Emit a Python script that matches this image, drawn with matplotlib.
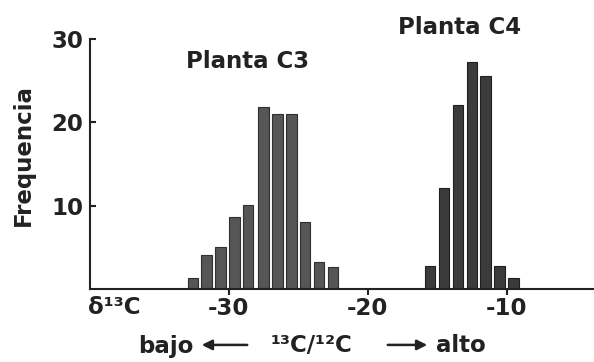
import numpy as np
import matplotlib.pyplot as plt

# data
c3_x = [-32.6, -31.6, -30.6, -29.6, -28.6, -27.5, -26.5, -25.5, -24.5, -23.5, -22.5]
c3_n = [1.3, 4.1, 5.1, 8.7, 10.1, 21.9, 21.0, 21.0, 8.0, 3.2, 2.7]
c4_x = [-15.5, -14.5, -13.5, -12.5, -11.5, -10.5, -9.5]
c4_n = [2.8, 12.1, 22.1, 27.2, 25.6, 2.8, 1.3]
xticks = [-30, -20, -10]
yticks = [10, 20, 30]

plt.rcParams['font.family'] = ['DejaVu Sans']
plt.rcParams['font.weight'] = 'bold'
txt = '#222222'
fs = 16.5

fig = plt.figure(figsize=(5.94, 3.62), dpi=100)
ax = fig.add_axes([90/594, 73/362, 504/594, 250/362])

ax.bar(c3_x, c3_n, width=0.75, color='#565656', edgecolor='#303030', lw=0.8)
ax.bar(c4_x, c4_n, width=0.75, color='#3b3b3b', edgecolor='#202020', lw=0.8)

ax.set_xlim(-40, -3.7)
ax.set_ylim(0, 30)
ax.spines['top'].set_visible(False)
ax.spines['right'].set_visible(False)
for s in ['left', 'bottom']:
    ax.spines[s].set_linewidth(1.5)
    ax.spines[s].set_color('#222222')

ax.set_xticks(xticks)
ax.set_xticklabels([str(t) for t in xticks])
ax.set_yticks(yticks)
ax.set_yticklabels([str(t) for t in yticks])
ax.tick_params(axis='x', direction='out', length=4, width=1.5, pad=2,
               labelsize=fs, colors=txt)
ax.tick_params(axis='y', direction='in', length=4, width=1.5, pad=5,
               labelsize=fs, colors=txt)
for lab in ax.get_xticklabels() + ax.get_yticklabels():
    lab.set_fontweight('bold')

fig.text(23/594, 1 - 155/362, 'Frequencia', fontsize=fs, fontweight='bold',
         color=txt, rotation=90, ha='center', va='center')

fig.text(88/594, 1 - 307/362, 'δ¹³C', fontsize=fs, fontweight='bold',
         color=txt, ha='left', va='center')

fig.text(248/594, 1 - 62/362, 'Planta C3', fontsize=fs, fontweight='bold',
         color=txt, ha='center', va='center')
fig.text(460/594, 1 - 28/362, 'Planta C4', fontsize=fs, fontweight='bold',
         color=txt, ha='center', va='center')

# bottom caption with arrows
yb = 1 - 346/362
fig.text(166/594, yb, 'bajo', fontsize=fs, fontweight='bold', color=txt,
         ha='center', va='center')
fig.text(312/594, yb, '¹³C/¹²C', fontsize=fs, fontweight='bold', color=txt,
         ha='center', va='center')
fig.text(461/594, yb, 'alto', fontsize=fs, fontweight='bold', color=txt,
         ha='center', va='center')
arr = dict(arrowstyle='-|>', color=txt, lw=1.8, mutation_scale=15)
fig.add_artist(plt.matplotlib.patches.FancyArrowPatch(
    (250/594, yb + 0.003), (199/594, yb + 0.003), transform=fig.transFigure, **arr))
fig.add_artist(plt.matplotlib.patches.FancyArrowPatch(
    (385/594, yb + 0.003), (430/594, yb + 0.003), transform=fig.transFigure, **arr))

plt.savefig('out.png', dpi=100)
